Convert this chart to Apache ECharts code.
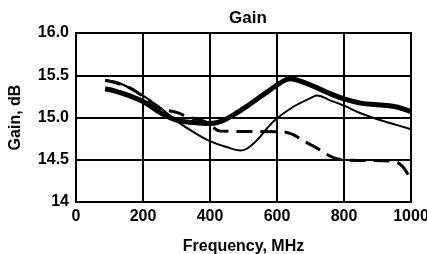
<!DOCTYPE html>
<html>
<head>
<meta charset="utf-8">
<script src="https://cdn.jsdelivr.net/npm/echarts@6/dist/echarts.min.js"></script>
<style>
  html, body { margin: 0; padding: 0; background: #fff; }
  #chart { width: 427px; height: 254px; }
</style>
</head>
<body>
<div id="chart"></div>
<script>
// values (frequency in MHz, gain in dB)
var xTicks = [0, 200, 400, 600, 800, 1000];
var yTickLabels = ['14', '14.5', '15.0', '15.5', '16.0'];

var thickFreq = [87, 120, 150, 200, 250, 300, 350, 400, 430, 470, 520, 570, 610, 640, 670, 720, 760, 800, 850, 900, 950, 1000];
var thickGain = [15.34, 15.31, 15.27, 15.19, 15.06, 14.97, 14.94, 14.93, 14.95, 15.03, 15.16, 15.30, 15.41, 15.46, 15.43, 15.35, 15.28, 15.22, 15.17, 15.15, 15.13, 15.07];

var thinFreq = [87, 120, 150, 200, 250, 300, 350, 400, 450, 490, 510, 540, 570, 600, 650, 700, 720, 760, 800, 850, 900, 950, 1000];
var thinGain = [15.44, 15.42, 15.37, 15.26, 15.12, 14.96, 14.83, 14.72, 14.65, 14.61, 14.63, 14.73, 14.87, 14.99, 15.13, 15.23, 15.26, 15.20, 15.14, 15.05, 14.98, 14.92, 14.86];

var dashFreq = [87, 150, 200, 240, 300, 340, 380, 410, 430, 615, 700, 795, 950, 1000];
var dashGain = [15.44, 15.37, 15.25, 15.12, 15.06, 15.00, 14.96, 14.88, 14.84, 14.83, 14.68, 14.50, 14.48, 14.26];

function pairs(xs, ys) {
    return xs.map(function (x, i) { return [x, ys[i]]; });
}

var mychart = echarts.init(document.getElementById('chart'));
var font = 'Liberation Sans, Arial, sans-serif';

var option = {
    animation: false,
    title: {
        text: 'Gain',
        left: 243,
        textAlign: 'center',
        top: 5,
        textStyle: { fontFamily: font, fontWeight: 'bold', fontSize: 17, color: '#000' }
    },
    grid: {
        left: 76, right: 16, top: 33, bottom: 52,
        outerBoundsMode: 'none',
        show: true, borderColor: '#000', borderWidth: 2
    },
    xAxis: {
        type: 'value',
        min: 0, max: 1000, interval: 200,
        name: 'Frequency, MHz',
        nameLocation: 'middle',
        nameGap: 37,
        nameTextStyle: { fontFamily: font, fontWeight: 'bold', fontSize: 16, color: '#000' },
        axisLine: { lineStyle: { color: '#000', width: 2 } },
        axisTick: { show: false },
        axisLabel: {
            margin: 7,
            fontFamily: font, fontWeight: 'bold', fontSize: 16, color: '#000',
            formatter: function (v) { return xTicks.indexOf(v) >= 0 ? String(v) : ''; }
        },
        splitLine: { show: true, lineStyle: { color: '#000', width: 2 } }
    },
    yAxis: {
        type: 'value',
        min: 14, max: 16, interval: 0.5,
        name: 'Gain, dB',
        nameLocation: 'middle',
        nameGap: 52,
        nameTextStyle: { fontFamily: font, fontWeight: 'bold', fontSize: 16, color: '#000' },
        axisLine: { lineStyle: { color: '#000', width: 2 } },
        axisTick: { show: false },
        axisLabel: {
            margin: 7,
            fontFamily: font, fontWeight: 'bold', fontSize: 16, color: '#000',
            formatter: function (v) { return yTickLabels[Math.round((v - 14) / 0.5)]; }
        },
        splitLine: { show: true, lineStyle: { color: '#000', width: 2 } }
    },
    series: [
        {
            type: 'line', smooth: 0.4, symbol: 'none',
            lineStyle: { color: '#000', width: 3, type: [16, 8] },
            data: pairs(dashFreq, dashGain)
        },
        {
            type: 'line', smooth: 0.4, symbol: 'none',
            lineStyle: { color: '#000', width: 2 },
            data: pairs(thinFreq, thinGain)
        },
        {
            type: 'line', smooth: 0.4, symbol: 'none',
            lineStyle: { color: '#000', width: 5 },
            data: pairs(thickFreq, thickGain)
        }
    ]
};
mychart.setOption(option);
</script>
</body>
</html>
